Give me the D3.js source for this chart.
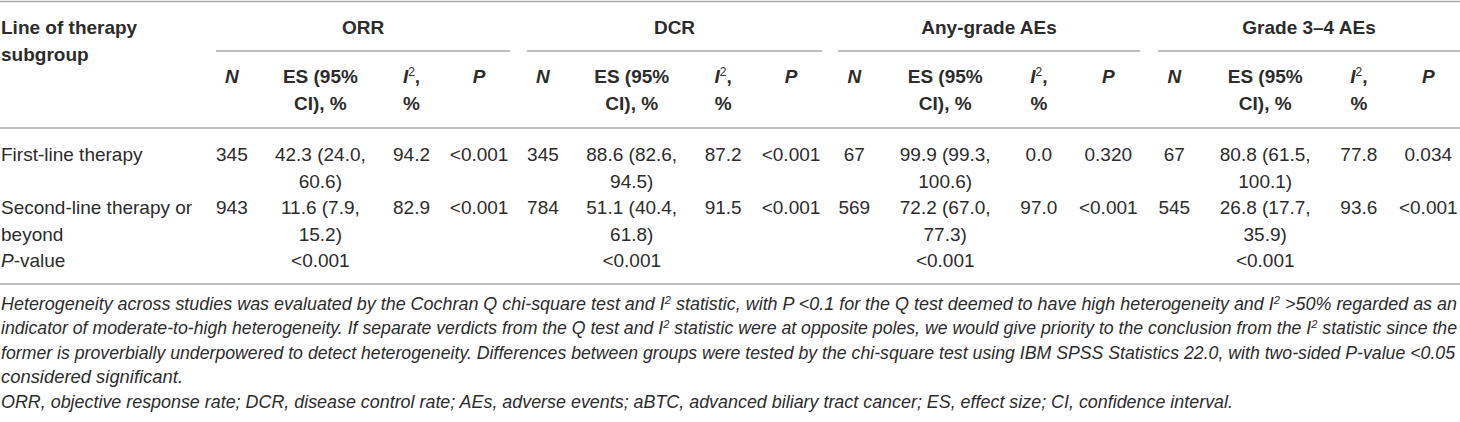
<!DOCTYPE html>
<html>
<head>
<meta charset="utf-8">
<script src="https://cdn.jsdelivr.net/npm/d3@7"></script>
<style>
  body { margin: 0; background: #fff; }
  svg { display: block; font-family: "Liberation Sans", Arial, Helvetica, sans-serif; }
</style>
</head>
<body>
<div id="table"></div>
<script>
// table content
var GROUPS = ["ORR", "DCR", "Any-grade AEs", "Grade 3\u20134 AEs"];
var SUBGROUP_LINES = [["First-line therapy"], ["Second-line therapy or", "beyond"]];

var N_FIRST = [345, 345, 67, 67];
var N_SECOND = [943, 784, 569, 545];
var ES_FIRST = [42.3, 88.6, 99.9, 80.8];
var LO_FIRST = [24.0, 82.6, 99.3, 61.5];
var HI_FIRST = [60.6, 94.5, 100.6, 100.1];
var ES_SECOND = [11.6, 51.1, 72.2, 26.8];
var LO_SECOND = [7.9, 40.4, 67.0, 17.7];
var HI_SECOND = [15.2, 61.8, 77.3, 35.9];
var I2_FIRST = [94.2, 87.2, 0.0, 77.8];
var I2_SECOND = [82.9, 91.5, 97.0, 93.6];
var P_FIRST = ["<0.001", "<0.001", "0.320", "0.034"];
var P_SECOND = ["<0.001", "<0.001", "<0.001", "<0.001"];
var P_BETWEEN = ["<0.001", "<0.001", "<0.001", "<0.001"];

// footnote lines, pieces flagged sup are superscripts
var NOTES = [
	[{t: "Heterogeneity across studies was evaluated by the Cochran Q chi-square test and I"}, {t: "2", sup: true}, {t: " statistic, with P <0.1 for the Q test deemed to have high heterogeneity and I"}, {t: "2", sup: true}, {t: " >50% regarded as an"}],
	[{t: "indicator of moderate-to-high heterogeneity. If separate verdicts from the Q test and I"}, {t: "2", sup: true}, {t: " statistic were at opposite poles, we would give priority to the conclusion from the I"}, {t: "2", sup: true}, {t: " statistic since the"}],
	[{t: "former is proverbially underpowered to detect heterogeneity. Differences between groups were tested by the chi-square test using IBM SPSS Statistics 22.0, with two-sided P-value <0.05"}],
	[{t: "considered significant."}],
	[{t: "ORR, objective response rate; DCR, disease control rate; AEs, adverse events; aBTC, advanced biliary tract cancer; ES, effect size; CI, confidence interval."}]
];
var NOTE_WIDTHS = [1456, 1456, 1454, 182, 1232];

var width = 1460, height = 422;
var TEXT = "#2c2c2c", RULE = "#a9a9a9";
var f1 = d3.format(".1f");

var svg = d3.select("#table").append("svg")
	.attr("width", width)
	.attr("height", height);

// horizontal extent of each group and relative position of its four columns
var groupRanges = [[216, 510], [527, 822], [838, 1140], [1158, 1460]];
var colFrac = [0.054, 0.355, 0.665, 0.895];
var colX = groupRanges.map(function(r) {
	var s = d3.scaleLinear().domain([0, 1]).range(r);
	return colFrac.map(function(f) { return s(f); });
});

// baselines
var lineH = 26.5, headLineH = 26.5;
var yHead = 34, ySub = 83, yRow1 = 161, yRow2 = 214, yPval = 266.5;

function rule(x1, x2, y) {
	svg.append("line")
		.attr("x1", x1).attr("x2", x2)
		.attr("y1", y).attr("y2", y)
		.attr("stroke", RULE)
		.attr("stroke-width", 1.6);
}

function cell(x, y, lines, opts) {
	opts = opts || {};
	var t = svg.append("text")
		.attr("x", x)
		.attr("y", y)
		.attr("fill", TEXT)
		.attr("font-size", 19)
		.attr("font-weight", opts.bold ? "bold" : null)
		.attr("font-style", opts.italic ? "italic" : null)
		.attr("text-anchor", opts.anchor || "middle");
	lines.forEach(function(l, i) {
		t.append("tspan")
			.attr("x", x)
			.attr("dy", i == 0 ? 0 : (opts.lh || lineH))
			.text(l);
	});
	return t;
}

// rules
rule(0, width, 1.5);
groupRanges.forEach(function(r) { rule(r[0], r[1], 51); });
rule(0, width, 128);
rule(0, width, 284);

// header
cell(1, yHead, ["Line of therapy", "subgroup"], {bold: true, anchor: "start", lh: 27});
GROUPS.forEach(function(g, i) {
	var r = groupRanges[i];
	cell((r[0] + r[1]) / 2, yHead, [g], {bold: true});

	var c = colX[i];
	cell(c[0], ySub, ["N"], {bold: true, italic: true});
	cell(c[1], ySub, ["ES (95%", "CI), %"], {bold: true, lh: headLineH});

	var t = svg.append("text")
		.attr("x", c[2]).attr("y", ySub)
		.attr("fill", TEXT)
		.attr("font-size", 19)
		.attr("font-weight", "bold")
		.attr("text-anchor", "middle");
	t.append("tspan").attr("font-style", "italic").text("I");
	t.append("tspan").attr("font-size", 12).attr("font-weight", "normal").attr("dy", -7).text("2");
	t.append("tspan").attr("dy", 7).text(",");
	cell(c[2], ySub + headLineH, ["%"], {bold: true});

	cell(c[3], ySub, ["P"], {bold: true, italic: true});
});

// body rows
var rows = [
	{y: yRow1, label: SUBGROUP_LINES[0], n: N_FIRST, es: ES_FIRST, lo: LO_FIRST, hi: HI_FIRST, i2: I2_FIRST, p: P_FIRST},
	{y: yRow2, label: SUBGROUP_LINES[1], n: N_SECOND, es: ES_SECOND, lo: LO_SECOND, hi: HI_SECOND, i2: I2_SECOND, p: P_SECOND}
];

rows.forEach(function(row) {
	cell(1, row.y, row.label, {anchor: "start"});
	GROUPS.forEach(function(g, i) {
		var c = colX[i];
		cell(c[0], row.y, [String(row.n[i])]);
		cell(c[1], row.y, [f1(row.es[i]) + " (" + f1(row.lo[i]) + ",", f1(row.hi[i]) + ")"]);
		cell(c[2], row.y, [f1(row.i2[i])]);
		cell(c[3], row.y, [row.p[i]]);
	});
});

// between-group P-value row
var pv = svg.append("text")
	.attr("x", 1).attr("y", yPval)
	.attr("fill", TEXT)
	.attr("font-size", 19);
pv.append("tspan").attr("font-style", "italic").text("P");
pv.append("tspan").text("-value");
GROUPS.forEach(function(g, i) {
	cell(colX[i][1], yPval, [P_BETWEEN[i]]);
});

// footnotes, each line fitted to its width in the original
var noteY = d3.scaleLinear().domain([0, 1]).range([309.5, 334.1]);
NOTES.forEach(function(parts, i) {
	var t = svg.append("text")
		.attr("x", 1)
		.attr("y", noteY(i))
		.attr("fill", TEXT)
		.attr("font-size", 17.5)
		.attr("font-style", "italic")
		.attr("textLength", NOTE_WIDTHS[i])
		.attr("lengthAdjust", "spacingAndGlyphs");
	parts.forEach(function(p) {
		var s = t.append("tspan").text(p.t);
		if(p.sup) {
			s.attr("font-size", 11).attr("baseline-shift", "super");
		}
	});
});
</script>
</body>
</html>
